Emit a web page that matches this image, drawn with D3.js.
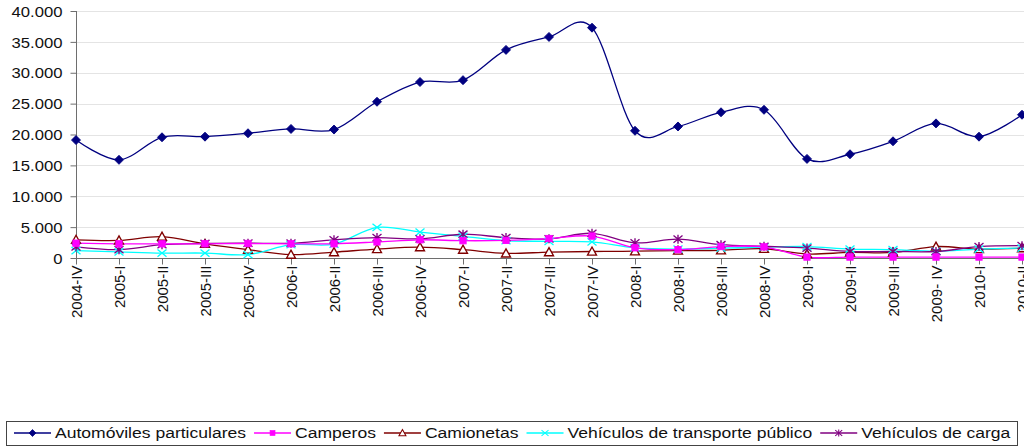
<!DOCTYPE html>
<html lang="es">
<head>
<meta charset="UTF-8">
<title>Vehículos por trimestre</title>
<style>
    body { margin: 0; background: #fff; }
    svg { display: block; font-family: "Liberation Sans", Arial, sans-serif; }
    .grid line { stroke: #e4e4e4; stroke-width: 1; }
    .axis path, .axis line { stroke: #6e6e6e; }
    .axis text { fill: #111; }
</style>
</head>
<body>
<script src="https://d3js.org/d3.v7.min.js"></script>
<script>
// trimestres
const periods = ["2004-IV", "2005-I", "2005-II", "2005-III", "2005-IV",
    "2006-I", "2006-II", "2006-III", "2006-IV",
    "2007-I", "2007-II", "2007-III", "2007-IV",
    "2008-I", "2008-II", "2008-III", "2008-IV",
    "2009-I", "2009-II", "2009-III", "2009- IV",
    "2010-I", "2010-II"];

const automoviles = [19100, 15900, 19550, 19650, 20200, 20900, 20800, 25300, 28500, 28800, 33700, 35800,
    37300, 20600, 21300, 23600, 24000, 16050, 16800, 18900, 21800, 19650, 23200];
const camperos = [2400, 2300, 2300, 2300, 2350, 2300, 2300, 2600, 2950, 2800, 2850, 3150,
    3550, 1650, 1350, 1850, 1800, 150, 150, 150, 150, 150, 150];
const camionetas = [2950, 2850, 3450, 2300, 1350, 550, 950, 1450, 1750, 1350, 750, 950,
    1050, 1100, 1200, 1250, 1500, 650, 900, 900, 1850, 1450, 1600];
const transporte = [1200, 1000, 800, 800, 550, 2150, 2250, 4950, 4200, 3500, 2800, 2700,
    2600, 1650, 1450, 1600, 1750, 1850, 1450, 1350, 1100, 1450, 1600];
const carga = [1800, 1350, 2150, 2350, 2400, 2400, 2950, 3300, 3100, 3850, 3300, 3100,
    4000, 2450, 3050, 2150, 1900, 1600, 1050, 1050, 1050, 1850, 2000];

const seriesNames = ["Automóviles particulares", "Camperos", "Camionetas",
    "Vehículos de transporte público", "Vehículos de carga"];
const seriesColors = ["#000080", "#ff00ff", "#800000", "#00ffff", "#800080"];
const seriesMarkers = ["diamond", "square", "triangle", "cross", "star"];
const yTicks = [0, 5000, 10000, 15000, 20000, 25000, 30000, 35000, 40000];

const series = [automoviles, camperos, camionetas, transporte, carga].map((values, i) => ({
    name: seriesNames[i], color: seriesColors[i], marker: seriesMarkers[i], values
}));

const W = 1024, H = 446;
const plot = {left: 76, top: 11, bottom: 258, right: 1024};
const step = 43;

const svg = d3.select("body").append("svg")
    .attr("width", W)
    .attr("height", H);

const x = d3.scalePoint()
    .domain(periods)
    .range([plot.left, plot.left + step * (periods.length - 1)]);

const y = d3.scaleLinear()
    .domain([0, 40000])
    .range([plot.bottom, plot.top]);

const locale = d3.formatLocale({decimal: ",", thousands: ".", grouping: [3], currency: ["", ""]});
const fmt = locale.format(",.0f");

// lineas de la grilla
svg.append("g").attr("class", "grid")
    .selectAll("line")
    .data(yTicks.filter(d => d > 0))
    .join("line")
    .attr("x1", plot.left).attr("x2", plot.right)
    .attr("y1", d => Math.round(y(d)) + 0.5)
    .attr("y2", d => Math.round(y(d)) + 0.5);

// eje Y
const yAxis = svg.append("g")
    .attr("class", "axis")
    .attr("transform", `translate(${plot.left + 0.5},0)`)
    .call(d3.axisLeft(y).tickValues(yTicks).tickFormat(fmt).tickSize(6).tickSizeOuter(0));
yAxis.select(".domain").attr("d", `M0,${plot.top}V${plot.bottom}`);
yAxis.selectAll("text")
    .attr("font-size", 14.5)
    .attr("x", -14 / 1.15)
    .attr("dy", "0.36em")
    .attr("transform", "scale(1.15,1)");

// eje X
const xAxis = svg.append("g")
    .attr("class", "axis")
    .attr("transform", `translate(0,${plot.bottom + 0.5})`)
    .call(d3.axisBottom(x).tickSize(6).tickSizeOuter(0));
xAxis.select(".domain").attr("d", `M${plot.left},0H${plot.right}`);
xAxis.selectAll("text")
    .attr("font-size", 15)
    .attr("text-anchor", "end")
    .attr("x", -7)
    .attr("y", 0)
    .attr("dy", "0.36em")
    .attr("transform", "rotate(-90)");

// lineas suavizadas
const line = d3.line()
    .x((d, i) => x(periods[i]))
    .y(d => y(d))
    .curve(d3.curveCardinal.tension(0));

function drawMarker(g, type, color, k = 1) {
    const p = g.append("g").attr("transform", `scale(${k})`);
    if (type === "diamond") {
        p.append("path").attr("d", "M0,-5L5,0L0,5L-5,0Z").attr("fill", color).attr("stroke", color);
    } else if (type === "square") {
        p.append("rect").attr("x", -3.5).attr("y", -3.5).attr("width", 7).attr("height", 7)
            .attr("fill", color).attr("stroke", color);
    } else if (type === "triangle") {
        p.append("path").attr("d", "M0,-5L5,4L-5,4Z").attr("fill", "#fff")
            .attr("stroke", color).attr("stroke-width", 1.5);
    } else if (type === "cross") {
        p.append("path").attr("d", "M-5,-4L5,4M-5,4L5,-4").attr("stroke", color).attr("stroke-width", 1.5);
    } else {
        p.append("path").attr("d", "M-5,-4L5,4M-5,4L5,-4M0,-5V5").attr("stroke", color).attr("stroke-width", 1.5);
    }
}

const drawOrder = [2, 3, 4, 1, 0];
drawOrder.forEach(k => {
    const s = series[k];
    svg.append("path")
        .attr("d", line(s.values))
        .attr("fill", "none")
        .attr("stroke", s.color)
        .attr("stroke-width", 1.3);
});
drawOrder.forEach(k => {
    const s = series[k];
    svg.append("g")
        .selectAll("g")
        .data(s.values)
        .join("g")
        .attr("transform", (d, i) => `translate(${x(periods[i])},${y(d)})`)
        .each(function () { drawMarker(d3.select(this), s.marker, s.color, 0.9); });
});

// leyenda
const legend = svg.append("g");
legend.append("rect")
    .attr("x", 6.5).attr("y", 421.5)
    .attr("width", 1011).attr("height", 24)
    .attr("fill", "#fff")
    .attr("stroke", "#444");

let lx = 14;
const ly = 433;
series.forEach(s => {
    const item = legend.append("g");
    item.append("line")
        .attr("x1", lx).attr("x2", lx + 37)
        .attr("y1", ly).attr("y2", ly)
        .attr("stroke", s.color).attr("stroke-width", 1.3);
    const m = item.append("g").attr("transform", `translate(${lx + 18.5},${ly})`);
    drawMarker(m, s.marker, s.color, 0.7);
    const tx = lx + 41;
    const t = item.append("text")
        .attr("x", tx / 1.17)
        .attr("y", ly + 5)
        .attr("font-size", 15)
        .attr("fill", "#111")
        .attr("transform", "scale(1.17,1)")
        .text(s.name);
    lx = tx + t.node().getComputedTextLength() * 1.17 + 8;
});
</script>
</body>
</html>
